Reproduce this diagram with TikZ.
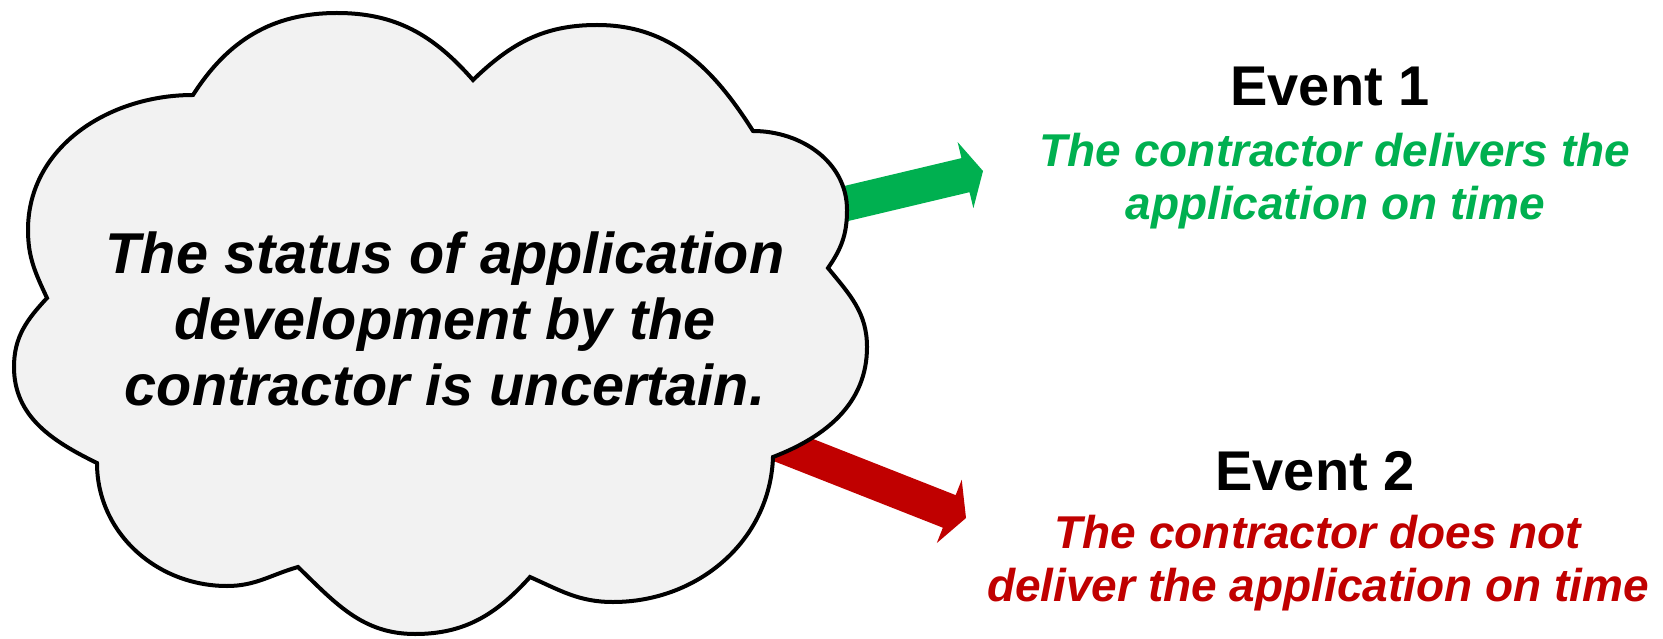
\documentclass[tikz,border=0pt]{standalone}
\usepackage{fontspec}
\setmainfont{Liberation Sans}
\usetikzlibrary{calc}
\definecolor{evgreen}{HTML}{00B050}
\definecolor{evred}{HTML}{C00000}
\definecolor{cloudfill}{HTML}{F2F2F2}
\tikzset{
  cloudline/.style={draw=black, line width=2pt, fill=cloudfill, line join=miter},
  cloudtext/.style={align=center, anchor=base, font={\fontsize{28.8}{32.9}\selectfont\bfseries\itshape}},
  eventtitle/.style={anchor=base, font={\fontsize{28}{32}\selectfont\bfseries}},
  eventtext/.style={align=center, anchor=base, font={\fontsize{23}{26.7}\selectfont\bfseries\itshape}},
}
% fat arrow: start, end, colour
\newcommand{\fatarrow}[3]{%
  \coordinate (neck) at ($(#2)!9pt!(#1)$);
  \fill[#3] ($(#1)!8.75pt!90:(#2)$) -- ($(neck)!8.75pt!90:(#2)$) -- ($(neck)!17pt!90:(#2)$)
     -- (#2) -- ($(neck)!17pt!-90:(#2)$) -- ($(neck)!8.75pt!-90:(#2)$) -- ($(#1)!8.75pt!-90:(#2)$) -- cycle;
}
\begin{document}
\begin{tikzpicture}[x=0.5pt,y=0.5pt]
\useasboundingbox (0,0) rectangle (1663,638);
% arrows (behind the cloud)
\coordinate (gs) at (760,414);
\coordinate (gt) at (983,467);
\coordinate (rs) at (740,209);
\coordinate (rt) at (966,120);
\fatarrow{gs}{gt}{evgreen}
\fatarrow{rs}{rt}{evred}
% cloud
\coordinate (c1) at (193,543);
\coordinate (c2) at (473,558);
\coordinate (c3) at (753,507);
\coordinate (c4) at (828,370);
\coordinate (c5) at (773,181);
\coordinate (c6) at (530,61);
\coordinate (c7) at (298,71);
\coordinate (c8) at (97,175);
\coordinate (c9) at (47,340);
\coordinate (e1) at (28,408);
\coordinate (e2) at (337,625);
\coordinate (e3) at (597,613);
\coordinate (e4) at (847,428);
\coordinate (e5) at (867,291);
\coordinate (e6) at (613,36);
\coordinate (e7) at (415,4);
\coordinate (e8) at (227,52);
\coordinate (e9) at (14,271);
\path[cloudline] (c9) to[out=115,in=270] (e1) to[out=90,in=180] (c1)
  to[out=57.5,in=180] (e2) to[out=0,in=131.2] (c2)
  to[out=44,in=180] (e3) to[out=0,in=122.4] (c3)
  to[out=0,in=90] (e4) to[out=-90,in=55] (c4)
  to[out=-50.7,in=90] (e5) to[out=-90,in=21] (c5)
  to[out=268,in=0] (e6) to[out=180,in=336] (c6)
  to[out=228,in=0] (e7) to[out=180,in=316] (c7)
  to[out=196,in=0] (e8) to[out=180,in=270] (c8)
  to[out=154,in=270] (e9) to[out=90,in=227] (c9) -- cycle;
\node[cloudtext] (status) at (445,232.8) {The status of application\\development by the\\contractor is uncertain.};
% events
\node[eventtitle] (ev1) at (1330,532) {Event 1};
\node[eventtext, text=evgreen] (ev1t) at (1335,418) {The contractor delivers the\\application on time};
\node[eventtitle] (ev2) at (1315,148) {Event 2};
\node[eventtext, text=evred] (ev2t) at (1318,36.6) {The contractor does not\\deliver the application on time};
\end{tikzpicture}
\end{document}
